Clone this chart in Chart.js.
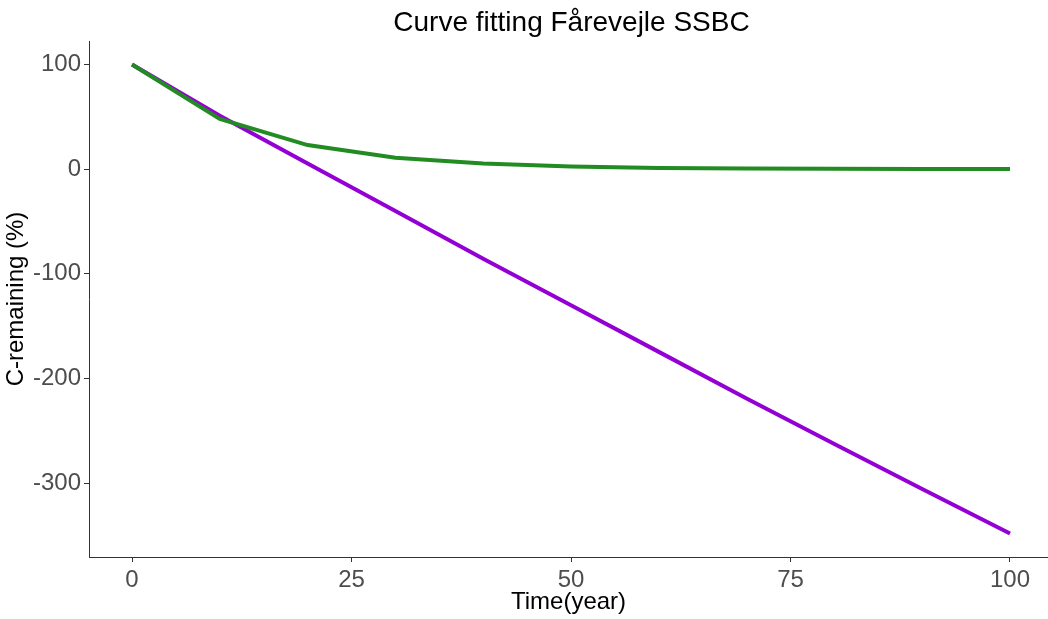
<!DOCTYPE html>
<html>
<head>
<meta charset="utf-8">
<script src="https://cdn.jsdelivr.net/npm/chart.js@4.4.1/dist/chart.umd.min.js"></script>
<style>
html,body{margin:0;padding:0;background:#fff;}
canvas{display:block;}
</style>
</head>
<body>
<canvas id="c" width="1048" height="619"></canvas>
<script>
const chartTitle = 'Curve fitting Fårevejle SSBC';
const years = [0, 10, 20, 30, 40, 50, 60, 70, 80, 90, 100];
const greenSeries = [100, 48, 23, 10.8, 5.3, 2.6, 1.2, 0.6, 0.3, 0.15, 0.07];
const purpleSeries = [100, 51, 5.4, -40, -85.5, -130, -174.5, -219, -262.5, -305.5, -348];
const xTicks = [0, 25, 50, 75, 100];
const yTicks = [100, 0, -100, -200, -300];

const FONT = "'Liberation Sans', Arial, sans-serif";

const panelTitle = {
  id: 'panelTitle',
  afterDraw(chart) {
    const ctx = chart.ctx;
    const a = chart.chartArea;
    ctx.save();
    ctx.font = '28px ' + FONT;
    ctx.fillStyle = '#000';
    ctx.textAlign = 'center';
    ctx.textBaseline = 'middle';
    ctx.fillText(chartTitle, (a.left + 1054) / 2, 23);
    ctx.restore();
  }
};

new Chart(document.getElementById('c'), {
  type: 'line',
  data: {
    datasets: [
      {
        label: 'green',
        data: years.map((x, i) => ({x: x, y: greenSeries[i]})),
        borderColor: '#228B22',
        borderWidth: 4,
        pointRadius: 0,
        tension: 0,
        fill: false
      },
      {
        label: 'purple',
        data: years.map((x, i) => ({x: x, y: purpleSeries[i]})),
        borderColor: '#9400D3',
        borderWidth: 4,
        pointRadius: 0,
        tension: 0,
        fill: false
      }
    ]
  },
  plugins: [panelTitle],
  options: {
    responsive: false,
    animation: false,
    layout: {padding: {left: 0, right: 0, top: 41, bottom: 0}},
    plugins: {
      legend: {display: false},
      tooltip: {enabled: false},
      title: {display: false}
    },
    scales: {
      x: {
        type: 'linear',
        min: -4.9,
        max: 104.33,
        afterBuildTicks: (s) => { s.ticks = xTicks.map(v => ({value: v})); },
        afterFit: (s) => { s.height = 62; },
        ticks: {
          color: '#4D4D4D',
          font: {family: FONT, size: 24},
          padding: 4,
          maxRotation: 0,
          autoSkip: false
        },
        grid: {display: true, drawOnChartArea: false, drawTicks: true, tickLength: 5, color: '#333'},
        border: {display: true, color: '#333', width: 1},
        title: {
          display: true,
          text: 'Time(year)',
          color: '#000',
          font: {family: FONT, size: 24},
          padding: {top: 0, bottom: 2}
        }
      },
      y: {
        type: 'linear',
        min: -370.4,
        max: 122.4,
        afterBuildTicks: (s) => { s.ticks = yTicks.map(v => ({value: v})); },
        afterFit: (s) => { s.width = 89; },
        ticks: {
          color: '#4D4D4D',
          font: {family: FONT, size: 24},
          padding: 3,
          autoSkip: false
        },
        grid: {display: true, drawOnChartArea: false, drawTicks: true, tickLength: 5, color: '#333'},
        border: {display: true, color: '#333', width: 1},
        title: {
          display: true,
          text: 'C-remaining (%)',
          color: '#000',
          font: {family: FONT, size: 24},
          padding: {top: 2, bottom: 0}
        }
      }
    }
  }
});
</script>
</body>
</html>
